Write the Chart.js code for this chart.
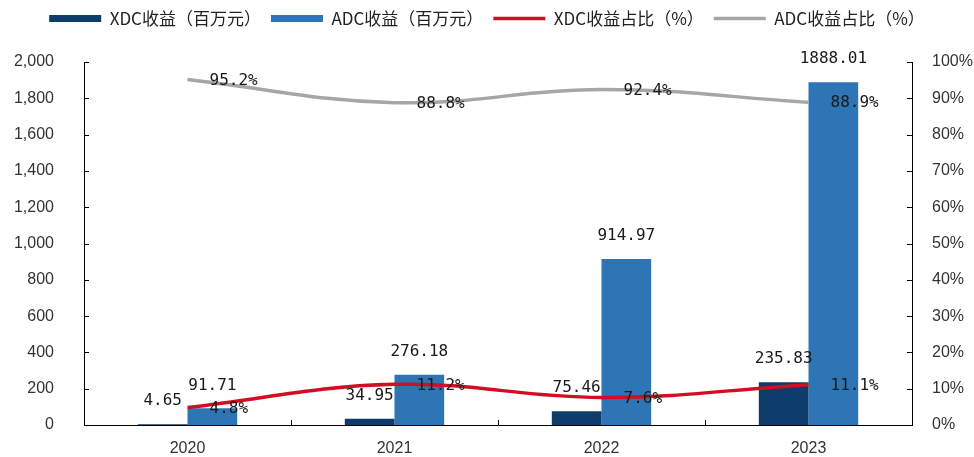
<!DOCTYPE html>
<html>
<head>
<meta charset="utf-8">
<script src="https://cdn.jsdelivr.net/npm/chart.js@4/dist/chart.umd.min.js"></script>
<style>
  html, body { margin: 0; padding: 0; background: #fff; }
  #wrap { width: 974px; height: 457px; }
</style>
</head>
<body>
<div id="wrap"><canvas id="revChart" width="974" height="457"></canvas></div>
<script>
// years and revenue figures (millions of yuan) plus revenue share (%)
const years = ['2020', '2021', '2022', '2023'];
const xdcRevenue = [4.65, 34.95, 75.46, 235.83];
const adcRevenue = [91.71, 276.18, 914.97, 1888.01];
const xdcShare = [4.8, 11.2, 7.6, 11.1];
const adcShare = [95.2, 88.8, 92.4, 88.9];

const labelFont = '16px "DejaVu Sans Mono", monospace';

// small tick marks pointing into the plot area, like the office-style axes
const innerTicks = {
  id: 'innerTicks',
  afterDraw(chart) {
    const { ctx, chartArea: a, scales } = chart;
    ctx.save();
    ctx.strokeStyle = '#000';
    ctx.lineWidth = 1;
    ctx.beginPath();
    scales.y.ticks.forEach((t, i) => {
      const y = Math.round(scales.y.getPixelForTick(i)) + 0.5;
      ctx.moveTo(a.left, y); ctx.lineTo(a.left + 5, y);
    });
    scales.y1.ticks.forEach((t, i) => {
      const y = Math.round(scales.y1.getPixelForTick(i)) + 0.5;
      ctx.moveTo(a.right - 5, y); ctx.lineTo(a.right, y);
    });
    const step = (a.right - a.left) / years.length;
    for (let i = 1; i < years.length; i++) {
      const x = Math.round(a.left + step * i) + 0.5;
      ctx.moveTo(x, a.bottom); ctx.lineTo(x, a.bottom - 5);
    }
    ctx.stroke();
    ctx.restore();
  }
};

// value labels: revenue above each bar, share to the right of each point
const valueLabels = {
  id: 'valueLabels',
  afterDatasetsDraw(chart) {
    const { ctx } = chart;
    ctx.save();
    ctx.font = labelFont;
    ctx.fillStyle = '#1a1a1a';
    ctx.textBaseline = 'middle';
    chart.data.datasets.forEach((ds, di) => {
      const meta = chart.getDatasetMeta(di);
      meta.data.forEach((el, i) => {
        const v = ds.data[i];
        if (ds.type === 'bar') {
          ctx.textAlign = 'center';
          ctx.fillText(v.toFixed(2), el.x, el.y - 23);
        } else {
          ctx.textAlign = 'left';
          ctx.fillText(v.toFixed(1) + '%', el.x + 22, el.y + 1);
        }
      });
    });
    ctx.restore();
  }
};

// give the legend a fixed band at the top
const legendBand = {
  id: 'legendBand',
  beforeInit(chart) {
    const fit = chart.legend.fit;
    chart.legend.fit = function () {
      fit.call(this);
      this.height = 62;
    };
  }
};

new Chart(document.getElementById('revChart'), {
  data: {
    labels: years,
    datasets: [
      {
        type: 'bar', label: 'XDC收益（百万元）', data: xdcRevenue, yAxisID: 'y',
        backgroundColor: '#0e3d6b', pointStyle: 'rect', order: 1
      },
      {
        type: 'bar', label: 'ADC收益（百万元）', data: adcRevenue, yAxisID: 'y',
        backgroundColor: '#2e75b6', pointStyle: 'rect', order: 1
      },
      {
        type: 'line', label: 'XDC收益占比（%）', data: xdcShare, yAxisID: 'y1',
        borderColor: '#d20f22', backgroundColor: '#d20f22', borderWidth: 3.5,
        pointRadius: 0, tension: 0.4, pointStyle: 'line', order: 0
      },
      {
        type: 'line', label: 'ADC收益占比（%）', data: adcShare, yAxisID: 'y1',
        borderColor: '#a6a6a6', backgroundColor: '#a6a6a6', borderWidth: 3.5,
        pointRadius: 0, tension: 0.4, pointStyle: 'line', order: 0
      }
    ]
  },
  options: {
    responsive: false,
    devicePixelRatio: 1,
    animation: false,
    layout: { padding: 0 },
    datasets: { bar: { barPercentage: 1, categoryPercentage: 0.48 } },
    plugins: {
      tooltip: { enabled: false },
      legend: {
        position: 'top',
        labels: {
          usePointStyle: true,
          pointStyleWidth: 52,
          boxHeight: 7,
          padding: 10,
          color: '#222',
          font: { family: '"Noto Sans CJK SC", sans-serif', size: 17, lineHeight: 1 },
          sort: (a, b) => a.datasetIndex - b.datasetIndex
        }
      }
    },
    scales: {
      x: {
        grid: { display: false },
        border: { display: true, color: '#000', width: 1 },
        ticks: { color: '#333', padding: 6, font: { family: '"Liberation Sans", Arial', size: 16 } },
        afterFit(s) { s.height = 32; }
      },
      y: {
        position: 'left', min: 0, max: 2000,
        grid: { display: false },
        border: { display: true, color: '#000', width: 1 },
        ticks: {
          stepSize: 200, padding: 22, color: '#333',
          font: { family: '"Liberation Sans", Arial', size: 16 },
          callback: v => v.toLocaleString('en-US')
        },
        afterFit(s) { s.width = 84; }
      },
      y1: {
        position: 'right', min: 0, max: 100,
        grid: { display: false },
        border: { display: true, color: '#000', width: 1 },
        ticks: {
          stepSize: 10, padding: 12, color: '#333',
          font: { family: '"Liberation Sans", Arial', size: 16 },
          callback: v => v + '%'
        },
        afterFit(s) { s.width = 62; }
      }
    }
  },
  plugins: [legendBand, innerTicks, valueLabels]
});
</script>
</body>
</html>
